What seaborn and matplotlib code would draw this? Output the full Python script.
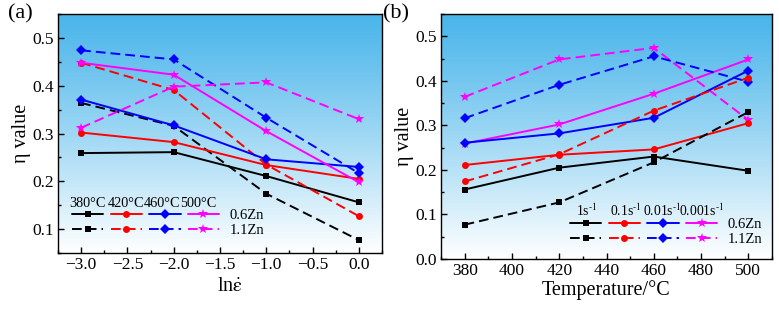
import numpy as np
import pandas as pd
import matplotlib
matplotlib.use("Agg")
import matplotlib.pyplot as plt
import seaborn as sns
from matplotlib.lines import Line2D
from matplotlib.ticker import MultipleLocator

sns.set_theme(style="ticks")
plt.rcParams["font.family"] = ["Liberation Serif", "DejaVu Serif"]
plt.rcParams["mathtext.fontset"] = "stix"
plt.rcParams["axes.edgecolor"] = "black"
plt.rcParams["xtick.color"] = "black"
plt.rcParams["ytick.color"] = "black"
plt.rcParams["text.color"] = "black"
plt.rcParams["axes.labelcolor"] = "black"

# ---------------- data ----------------
temps = [380, 420, 460, 500]
temp_labels = ["380°C", "420°C", "460°C", "500°C"]
ln_rate = [-3, -2, -1, 0]                      # ln(strain rate) axis values
rate_labels = ["0.001s$^{\\text{-1}}$", "0.01s$^{\\text{-1}}$",
               "0.1s$^{\\text{-1}}$", "1s$^{\\text{-1}}$"]  # same order as ln_rate
alloys = ["0.6Zn", "1.1Zn"]

# eta values at ln_rate = -3, -2, -1, 0
eta_06_380 = [0.259, 0.261, 0.211, 0.156]
eta_06_420 = [0.302, 0.282, 0.234, 0.205]
eta_06_460 = [0.371, 0.317, 0.246, 0.230]
eta_06_500 = [0.448, 0.423, 0.305, 0.198]
eta_11_380 = [0.364, 0.316, 0.174, 0.077]
eta_11_420 = [0.448, 0.391, 0.235, 0.127]
eta_11_460 = [0.474, 0.455, 0.333, 0.217]
eta_11_500 = [0.312, 0.398, 0.407, 0.330]

eta = {
    "0.6Zn": [eta_06_380, eta_06_420, eta_06_460, eta_06_500],
    "1.1Zn": [eta_11_380, eta_11_420, eta_11_460, eta_11_500],
}

colors = ["black", "#ff0000", "#0000ff", "#ff00ff"]
marks = ["s", "o", "D", "*"]
msizes = [5, 5, 5, 7]
dash_pat = (5, 2.6)

rows = []
for a in alloys:
    for ti, t in enumerate(temps):
        for ri, r in enumerate(ln_rate):
            rows.append(dict(alloy=a, T=t, Tlab=temp_labels[ti], lnr=r,
                             rate=rate_labels[ri], eta=eta[a][ti][ri]))
df = pd.DataFrame(rows)
df["keyA"] = df["Tlab"] + "|" + df["alloy"]
df["keyB"] = df["rate"] + "|" + df["alloy"]

# ---------------- figure ----------------
W, H = 779, 309
fig = plt.figure(figsize=(W / 100, H / 100), dpi=100)
axA = fig.add_axes([58 / W, 1 - 253 / H, 324 / W, 239 / H])
axB = fig.add_axes([441 / W, 1 - 259 / H, 331 / W, 245 / H])

top = np.array([0.29, 0.71, 0.92])
bot = np.array([1.0, 1.0, 1.0])
frac = np.linspace(0, 1, 256)[:, None] ** 1.1
grad = (top[None, :] * (1 - frac) + bot[None, :] * frac)[:, None, :]

for ax in (axA, axB):
    ax.imshow(grad, extent=[0, 1, 0, 1], transform=ax.transAxes,
              aspect="auto", zorder=0, interpolation="bilinear")

# panel (a): colour/marker by temperature
palA = dict(zip(temp_labels, colors))
mkA, dsA = {}, {}
for ti, tl in enumerate(temp_labels):
    for a in alloys:
        k = tl + "|" + a
        mkA[k] = marks[ti]
        dsA[k] = "" if a == "0.6Zn" else dash_pat
sns.lineplot(data=df, x="lnr", y="eta", hue="Tlab", style="keyA",
             palette=palA, markers=mkA, dashes=dsA, estimator=None,
             legend=False, ax=axA, lw=1.4, markersize=5, markeredgewidth=0,
             zorder=3)

# panel (b): colour/marker by strain rate (1 s-1 first)
rate_order = rate_labels[::-1]
palB = dict(zip(rate_order, colors))
mkB, dsB = {}, {}
for ri, rl in enumerate(rate_order):
    for a in alloys:
        k = rl + "|" + a
        mkB[k] = marks[ri]
        dsB[k] = "" if a == "0.6Zn" else dash_pat
sns.lineplot(data=df, x="T", y="eta", hue="rate", style="keyB",
             palette=palB, markers=mkB, dashes=dsB, estimator=None,
             legend=False, ax=axB, lw=1.4, markersize=5, markeredgewidth=0,
             zorder=3)

for ax in (axA, axB):
    for ln in ax.lines:
        if ln.get_marker() == "*":
            ln.set_markersize(7)

axA.set_xlim(-3.25, 0.25)
axA.set_ylim(0.05, 0.55)
axA.xaxis.set_major_locator(MultipleLocator(0.5))
axA.xaxis.set_minor_locator(MultipleLocator(0.25))
axA.yaxis.set_major_locator(MultipleLocator(0.1))
axA.yaxis.set_minor_locator(MultipleLocator(0.05))
axA.set_yticks([0.1, 0.2, 0.3, 0.4, 0.5])
axA.set_xlabel(r"ln$\dot{\mathrm{\varepsilon}}$", fontsize=14.5, labelpad=1)
axA.set_ylabel("η value", fontsize=14.5, labelpad=1)
axA.xaxis.set_label_coords(0.53, -0.10)

axB.set_xlim(370, 510)
axB.set_ylim(0.0, 0.55)
axB.xaxis.set_major_locator(MultipleLocator(20))
axB.xaxis.set_minor_locator(MultipleLocator(10))
axB.yaxis.set_major_locator(MultipleLocator(0.1))
axB.yaxis.set_minor_locator(MultipleLocator(0.05))
axB.set_yticks([0.0, 0.1, 0.2, 0.3, 0.4, 0.5])
axB.set_xlabel("Temperature/°C", fontsize=14.5, labelpad=1)
axB.set_ylabel("η value", fontsize=14.5, labelpad=1)

for ax in (axA, axB):
    ax.tick_params(which="major", direction="in", length=4, width=1,
                   labelsize=12.5, top=False, right=False, pad=3)
    ax.tick_params(which="minor", direction="in", length=2.2, width=1,
                   top=False, right=False)
    for s in ax.spines.values():
        s.set_color("black")
        s.set_linewidth(1.0)
        s.set_zorder(5)


def make_legend(ax, headers, x0, yc, hx, hy, hfs):
    hs, ls = [], []
    for ci in range(4):
        for a in alloys:
            ls_ = "-" if a == "0.6Zn" else (0, dash_pat)
            hs.append(Line2D([], [], color=colors[ci], marker=marks[ci],
                             markersize=msizes[ci], markeredgewidth=0, lw=1.4,
                             linestyle=ls_))
            ls.append(a if ci == 3 else " ")
    leg = ax.legend(hs, ls, ncol=4, loc="center left",
                    bbox_to_anchor=(x0, yc), bbox_transform=ax.transAxes,
                    frameon=False, fontsize=10.5, handlelength=2.15,
                    handletextpad=0.7, columnspacing=-0.45, labelspacing=0.1,
                    borderpad=0, borderaxespad=0)
    leg.set_zorder(6)
    for h, x in zip(headers, hx):
        ax.text(x, hy, h, transform=ax.transAxes, ha="center", va="center",
                fontsize=hfs, zorder=6)


make_legend(axA, temp_labels, 0.043, 0.1255,
            [0.091, 0.210, 0.322, 0.434], 0.207, 10.3)
make_legend(axB, rate_order, 0.390, 0.110,
            [0.440, 0.559, 0.669, 0.787], 0.195, 9.8)

fig.text(8 / W, 1 - 4 / H, "(a)", fontsize=16, ha="left", va="top")
fig.text(383 / W, 1 - 4 / H, "(b)", fontsize=16, ha="left", va="top")

fig.savefig("out.png", dpi=100)
